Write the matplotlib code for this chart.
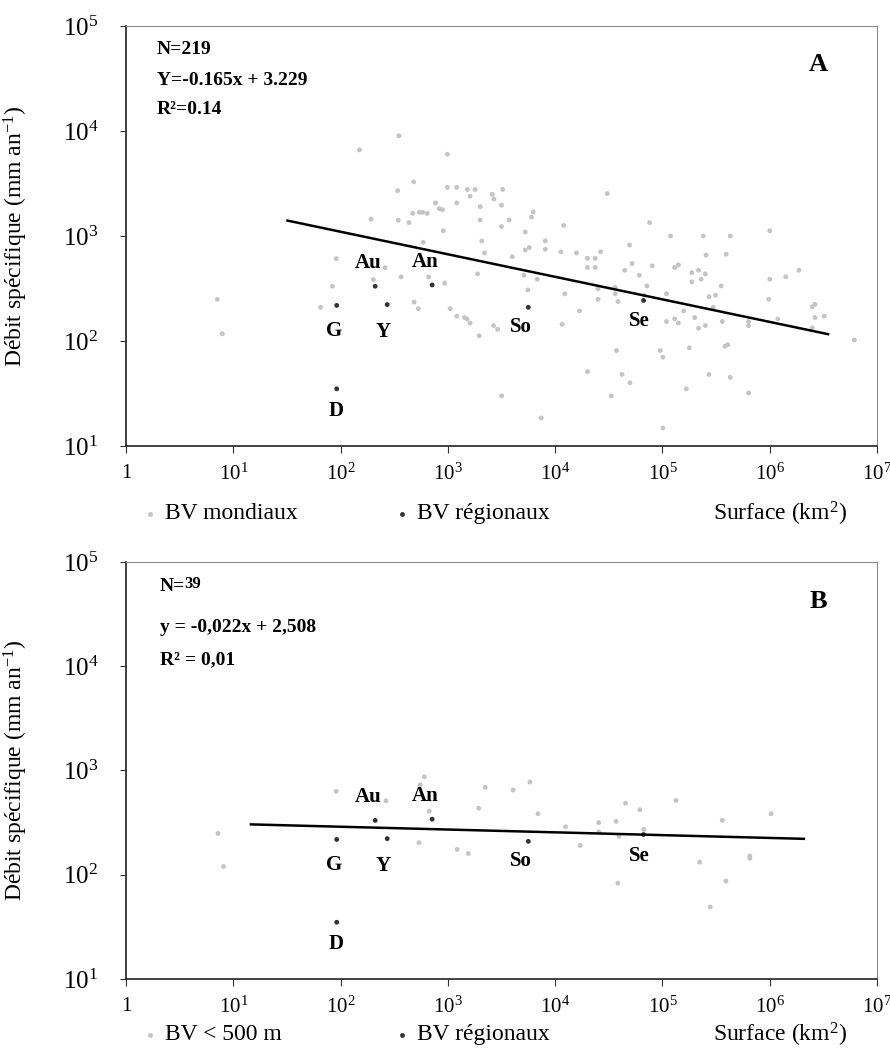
import numpy as np
import matplotlib
matplotlib.use("Agg")
import matplotlib.pyplot as plt

plt.rcParams['font.family'] = ['Liberation Serif', 'DejaVu Serif']
plt.rcParams['mathtext.fontset'] = 'custom'
plt.rcParams['mathtext.rm'] = 'Liberation Serif'
plt.rcParams['mathtext.bf'] = 'Liberation Serif:bold'

# --- Panel A : BV mondiaux (surface km2, debit specifique mm/an)
surf_monde = [150, 350, 990, 480, 340, 990, 1210, 192, 345, 434, 470, 541, 582, 641, 769,
              832, 891, 1210, 906, 589, 1520, 1790, 1610, 2590, 2690, 3240, 3160, 2000, 2000,
              3720, 6250, 6030, 3160, 5260, 12000, 30600, 75900, 2070, 8090, 5740, 5260, 8090,
              49300, 119000, 240000, 429000, 1000000, 91, 259, 202, 366, 662, 933, 84, 7.1,
              7.9, 65, 485, 530, 1050, 1210, 2190, 3980, 11300, 15800, 20000, 23600, 20000,
              23600, 26500, 52200, 44400, 60800, 80400, 130000, 141000, 255000, 393000, 188000,
              217000, 251000, 188000, 230000, 353000, 1000000, 1410000, 1870000, 977000,
              1190000, 2490000, 2640000, 2640000, 3220000, 2490000, 6140000, 1890, 6810, 5120,
              5570, 12300, 25100, 25100, 36300, 36300, 38500, 67600, 71800, 109000, 158000,
              272000, 313000, 297000, 1430, 1510, 1610, 1960, 2670, 2910, 11600, 16900, 109000,
              130000, 141000, 200000, 217000, 251000, 361000, 635000, 635000, 37300, 95500,
              101000, 178000, 382000, 406000, 20000, 42000, 49800, 271000, 429000, 167000,
              635000, 3170, 33300, 7430, 101000]
debit_monde = [6600, 9000, 6000, 3270, 2700, 2900, 2900, 1450, 1410, 1340, 1640, 1680, 1680,
               1640, 2060, 1820, 1780, 2060, 1120, 871, 2770, 2770, 2390, 2490, 2250, 2770, 1960,
               1900, 1420, 1420, 1690, 1510, 1230, 1090, 1260, 2530, 1340, 895, 895, 774, 736,
               746, 820, 1000, 1000, 1000, 1120, 608, 499, 384, 407, 407, 355, 332, 249, 117,
               209, 235, 203, 203, 172, 689, 635, 705, 689, 612, 612, 501, 501, 705, 545, 471,
               422, 518, 501, 530, 656, 670, 447, 471, 435, 365, 387, 334, 387, 409, 471, 249,
               162, 211, 223, 167, 172, 133, 102, 435, 387, 422, 306, 281, 315, 249, 324, 281,
               237, 272, 334, 281, 193, 264, 272, 209, 167, 162, 148, 112, 140, 129, 144, 193,
               153, 162, 148, 167, 132, 140, 153, 153, 140, 81, 81, 70, 86, 89, 92, 51, 48, 40,
               48, 45, 35, 32, 30, 30, 18.5, 14.8]

# --- Panel B : BV < 500 m
surf_500 = [7.2, 8.1, 91, 265, 603, 553, 671, 538, 1220, 1550, 2230, 4050, 5820, 1940, 6920,
            12500, 17100, 25500, 25500, 37000, 39300, 45300, 61700, 67100, 38400, 134000,
            222000, 361000, 391000, 279000, 653000, 653000, 1030000]
debit_500 = [249, 120, 631, 512, 871, 729, 408, 203, 175, 160, 689, 649, 774, 434, 385, 288,
             191, 316, 258, 325, 233, 486, 420, 272, 83, 516, 132, 333, 87, 49, 151, 144, 385]

# --- BV regionaux (same in both panels)
sites = ["G", "Au", "Y", "An", "D", "So", "Se"]
surf_reg = [92, 210, 272, 713, 92, 5620, 66700]
debit_reg = [218, 332, 222, 341, 35, 209, 243]

# regression lines as drawn (end points)
line_a_x = [32, 3.5e6]
line_a_y = [1400, 116]
line_b_x = [14.6, 2.08e6]
line_b_y = [304, 221]

# label offsets (pixels) for the site names
label_off = {"G": (-3, -26), "Au": (-7, 23), "Y": (-4, -27), "An": (-7, 23),
             "D": (-1, -22), "So": (-7, -20), "Se": (-4, -21)}

xticks = [1, 1e1, 1e2, 1e3, 1e4, 1e5, 1e6, 1e7]
xlabels = ["1"] + [r"$\mathregular{10^{%d}}$" % i for i in range(1, 8)]
yticks = [1e1, 1e2, 1e3, 1e4, 1e5]
ylabels = [r"$\mathregular{10^{%d}}$" % i for i in range(1, 6)]

GREY = "#c4c4c4"
DARK = "#333333"

fig = plt.figure(figsize=(8.9, 10.58), dpi=100)
ax_a = fig.add_axes([0.1416, 0.5785, 0.8438, 0.397])
ax_b = fig.add_axes([0.1416, 0.0747, 0.8438, 0.3941])


def draw_panel(ax, sx, sy, lx, ly, letter, stats, legend_txt, leg_y):
    ax.set_xscale("log")
    ax.set_yscale("log")
    ax.set_xlim(1, 1e7)
    ax.set_ylim(10, 1e5)
    ax.scatter(sx, sy, s=12, color=GREY, edgecolors="none", zorder=2)
    ax.scatter(surf_reg, debit_reg, s=12, color=DARK, edgecolors="none", zorder=3)
    ax.plot(lx, ly, color="black", lw=1.8, zorder=4)
    for name, x, y in zip(sites, surf_reg, debit_reg):
        ax.annotate(name, (x, y), xytext=label_off[name], textcoords="offset pixels",
                    ha="center", va="center", fontsize=15, fontweight="bold")

    ax.set_xticks(xticks)
    ax.set_xticklabels(xlabels, fontsize=15)
    ax.set_yticks(yticks)
    ax.set_yticklabels(ylabels, fontsize=18)
    ax.minorticks_off()
    ax.tick_params(axis="x", direction="out", length=5, pad=8, color="#333333")
    ax.tick_params(axis="y", direction="out", length=4, pad=16, color="#333333")
    for side in ["top", "right"]:
        ax.spines[side].set_color("#8a8a8a")
    for side in ["left", "bottom"]:
        ax.spines[side].set_color("#222222")
        ax.spines[side].set_linewidth(1.2)

    ax.set_ylabel("Débit spécifique (mm an$\\mathregular{^{-1}}$)", fontsize=17)
    ax.yaxis.set_label_coords(-0.128, 0.5)

    ax.text(0.922, letter[1], letter[0], transform=ax.transAxes, fontsize=19,
            fontweight="bold", ha="center", va="center")
    for txt, x, y, fs in stats:
        ax.text(x, y, txt, transform=ax.transAxes, fontsize=fs, fontweight="bold",
                ha="left", va="center")

    # legend row under the axis
    ax.plot([0.032], [leg_y], "o", ms=3.5, color=GREY, mec="none",
            transform=ax.transAxes, clip_on=False)
    ax.text(0.052, leg_y, legend_txt, transform=ax.transAxes, fontsize=17,
            ha="left", va="center")
    ax.plot([0.3675], [leg_y], "o", ms=3.5, color=DARK, mec="none",
            transform=ax.transAxes, clip_on=False)
    ax.text(0.3875, leg_y, "BV régionaux", transform=ax.transAxes, fontsize=17,
            ha="left", va="center")
    ax.text(0.7816, leg_y, "Surface (km$\\mathregular{^{2}}$)", transform=ax.transAxes,
            fontsize=17, ha="left", va="center")


stats_a = [("N=219", 0.041, 0.943, 14),
           ("Y=-0.165x + 3.229", 0.041, 0.871, 14),
           ("R²=0.14", 0.041, 0.800, 14)]
stats_b = [("N=", 0.045, 0.941, 14),
           ("39", 0.077, 0.947, 12),
           ("y = -0,022x + 2,508", 0.045, 0.842, 14),
           ("R² = 0,01", 0.045, 0.765, 14)]

draw_panel(ax_a, surf_monde, debit_monde, line_a_x, line_a_y, ("A", 0.907), stats_a,
           "BV mondiaux", -0.162)
draw_panel(ax_b, surf_500, debit_500, line_b_x, line_b_y, ("B", 0.906), stats_b,
           "BV < 500 m", -0.134)

fig.savefig("out.png", dpi=100)
